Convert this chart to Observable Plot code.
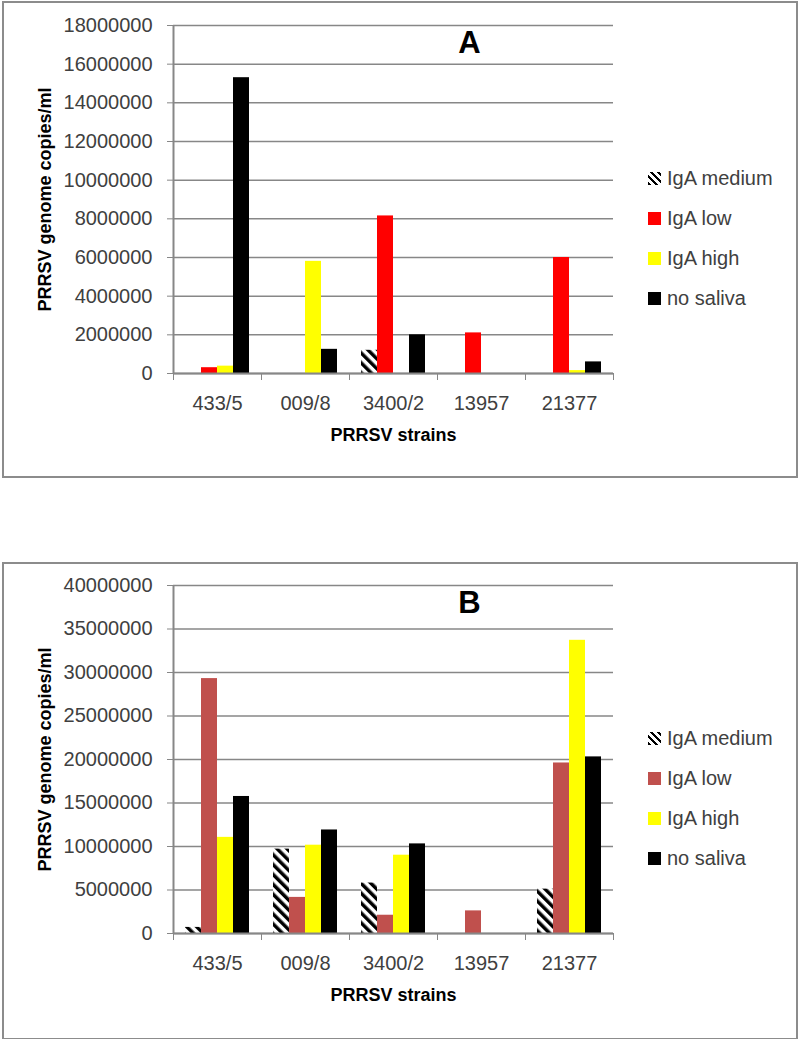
<!DOCTYPE html>
<html><head><meta charset="utf-8">
<script src="https://cdn.jsdelivr.net/npm/d3@7"></script>
<script src="https://cdn.jsdelivr.net/npm/@observablehq/plot@0.6"></script>
<style>
body{margin:0;background:#fff;font-family:"Liberation Sans",Arial,sans-serif;}
#root{position:relative;width:800px;height:1039px;overflow:hidden;}
.panel{position:absolute;left:0;width:800px;height:480px;}
.border{position:absolute;left:2px;width:796px;border:2px solid #8c8c8c;box-sizing:border-box;}
.panel svg{position:absolute;left:0;top:0;}
.legend{position:absolute;left:648px;top:158px;font-size:20px;color:#404040;}
.legend .row{height:40px;display:flex;align-items:center;white-space:nowrap;}
.legend .sw{width:13px;height:13px;margin-right:6px;display:inline-block;}
</style></head>
<body><div id="root"></div>
<script>
const strains = ["433/5", "009/8", "3400/2", "13957", "21377"];
const seriesNames = ["IgA medium", "IgA low", "IgA high", "no saliva"];

// Panel A values (genome copies/ml)
const aMedium   = [0, 0, 1200000, 0, 0];
const aLow      = [300000, 0, 8150000, 2100000, 6000000];
const aHigh     = [380000, 5800000, 0, 0, 150000];
const aNoSaliva = [15300000, 1250000, 2000000, 0, 600000];
const aTicks = [0, 2000000, 4000000, 6000000, 8000000, 10000000, 12000000, 14000000, 16000000, 18000000];

// Panel B values (genome copies/ml)
const bMedium   = [700000, 9700000, 5800000, 0, 5100000];
const bLow      = [29300000, 4150000, 2100000, 2600000, 19600000];
const bHigh     = [11050000, 10150000, 9000000, 0, 33700000];
const bNoSaliva = [15750000, 11900000, 10300000, 0, 20300000];
const bTicks = [0, 5000000, 10000000, 15000000, 20000000, 25000000, 30000000, 35000000, 40000000];

const colorsA = ["url(#hatchA)", "#ff0000", "#ffff00", "#000000"];
const colorsB = ["url(#hatchB)", "#c0504d", "#ffff00", "#000000"];

const root = document.getElementById("root");

function panel(top, borderTop, borderH, letter, seriesVals, ticks, colors, pid) {
  const W = 800, H = 480, mL = 173, mR = 187, mT = 25, mB = 107;
  const bw = (W - mL - mR) / strains.length;
  const barW = bw * 16 / 88;
  const inset = (bw - barW) / 2;
  const rows = [];
  seriesNames.forEach((s, i) => strains.forEach((st, j) => rows.push({series: s, strain: st, value: seriesVals[i][j]})));
  const grid = "#878787";
  const marks = [
    Plot.gridY(ticks, {stroke: grid, strokeOpacity: 1, strokeWidth: 1.5}),
    ...seriesNames.map((s, i) => Plot.barY(rows.filter(d => d.series === s), {
      x: "strain", y: "value", fill: colors[i], insetLeft: inset, insetRight: inset, dx: (i - 1.5) * barW
    })),
    Plot.ruleY([0], {stroke: grid, strokeWidth: 2}),
    Plot.ruleX([strains[0]], {dx: -bw / 2, y1: 0, y2: ticks[ticks.length - 1], stroke: grid, strokeWidth: 2}),
    Plot.axisY({ticks, tickSize: 6, tickPadding: 15, tickFormat: d3.format("d"), fontSize: 20, stroke: grid, fill: "#404040", label: null}),
    Plot.axisX({ticks: strains, tickSize: 7, tickFormat: () => "", dx: -bw / 2, stroke: grid, label: null}),
    Plot.axisX({ticks: [strains[strains.length - 1]], tickSize: 7, tickFormat: () => "", dx: bw / 2, stroke: grid, label: null}),
    Plot.text(strains, {x: d => d, frameAnchor: "bottom", lineAnchor: "middle", dy: 30, fontSize: 20, fill: "#404040"}),
    Plot.text(["PRRSV strains"], {frameAnchor: "bottom", lineAnchor: "middle", dy: 62, fontSize: 18, fontWeight: "bold", fill: "#000"}),
    Plot.text(["PRRSV genome copies/ml"], {frameAnchor: "left", textAnchor: "middle", lineAnchor: "middle", rotate: -90, dx: -128, fontSize: 18, fontWeight: "bold", fill: "#000"}),
    Plot.text([letter], {frameAnchor: "top", lineAnchor: "middle", dx: 76, dy: 18, fontSize: 31, fontWeight: "bold", fill: "#000"})
  ];
  const svg = Plot.plot({
    width: W, height: H, marginLeft: mL, marginRight: mR, marginTop: mT, marginBottom: mB,
    style: {fontFamily: '"Liberation Sans", Arial, sans-serif', fontSize: "20px", background: "transparent", overflow: "visible"},
    x: {type: "band", domain: strains, padding: 0},
    y: {domain: [0, ticks[ticks.length - 1]]},
    marks
  });
  const defs = d3.select(svg).insert("defs", ":first-child");
  const pat = defs.append("pattern").attr("id", pid).attr("patternUnits", "userSpaceOnUse")
    .attr("width", 7).attr("height", 7).attr("patternTransform", "rotate(-45)");
  pat.append("rect").attr("width", 7).attr("height", 7).attr("fill", "#fff");
  pat.append("rect").attr("width", 3.5).attr("height", 7).attr("fill", "#000");

  const p = document.createElement("div");
  p.className = "panel";
  p.style.top = top + "px";
  const b = document.createElement("div");
  b.className = "border";
  b.style.top = borderTop + "px";
  b.style.height = borderH + "px";
  p.appendChild(b);
  p.appendChild(svg);
  const lg = document.createElement("div");
  lg.className = "legend";
  seriesNames.forEach((s, i) => {
    const r = document.createElement("div");
    r.className = "row";
    const sw = document.createElement("span");
    sw.className = "sw";
    sw.style.background = i === 0 ? "repeating-linear-gradient(45deg,#000 0 2.5px,#fff 2.5px 5px)" : colors[i];
    r.appendChild(sw);
    r.appendChild(document.createTextNode(s));
    lg.appendChild(r);
  });
  p.appendChild(lg);
  root.appendChild(p);
}

panel(0, 1, 477, "A", [aMedium, aLow, aHigh, aNoSaliva], aTicks, colorsA, "hatchA");
panel(560, 2, 478, "B", [bMedium, bLow, bHigh, bNoSaliva], bTicks, colorsB, "hatchB");
</script>
</body></html>
